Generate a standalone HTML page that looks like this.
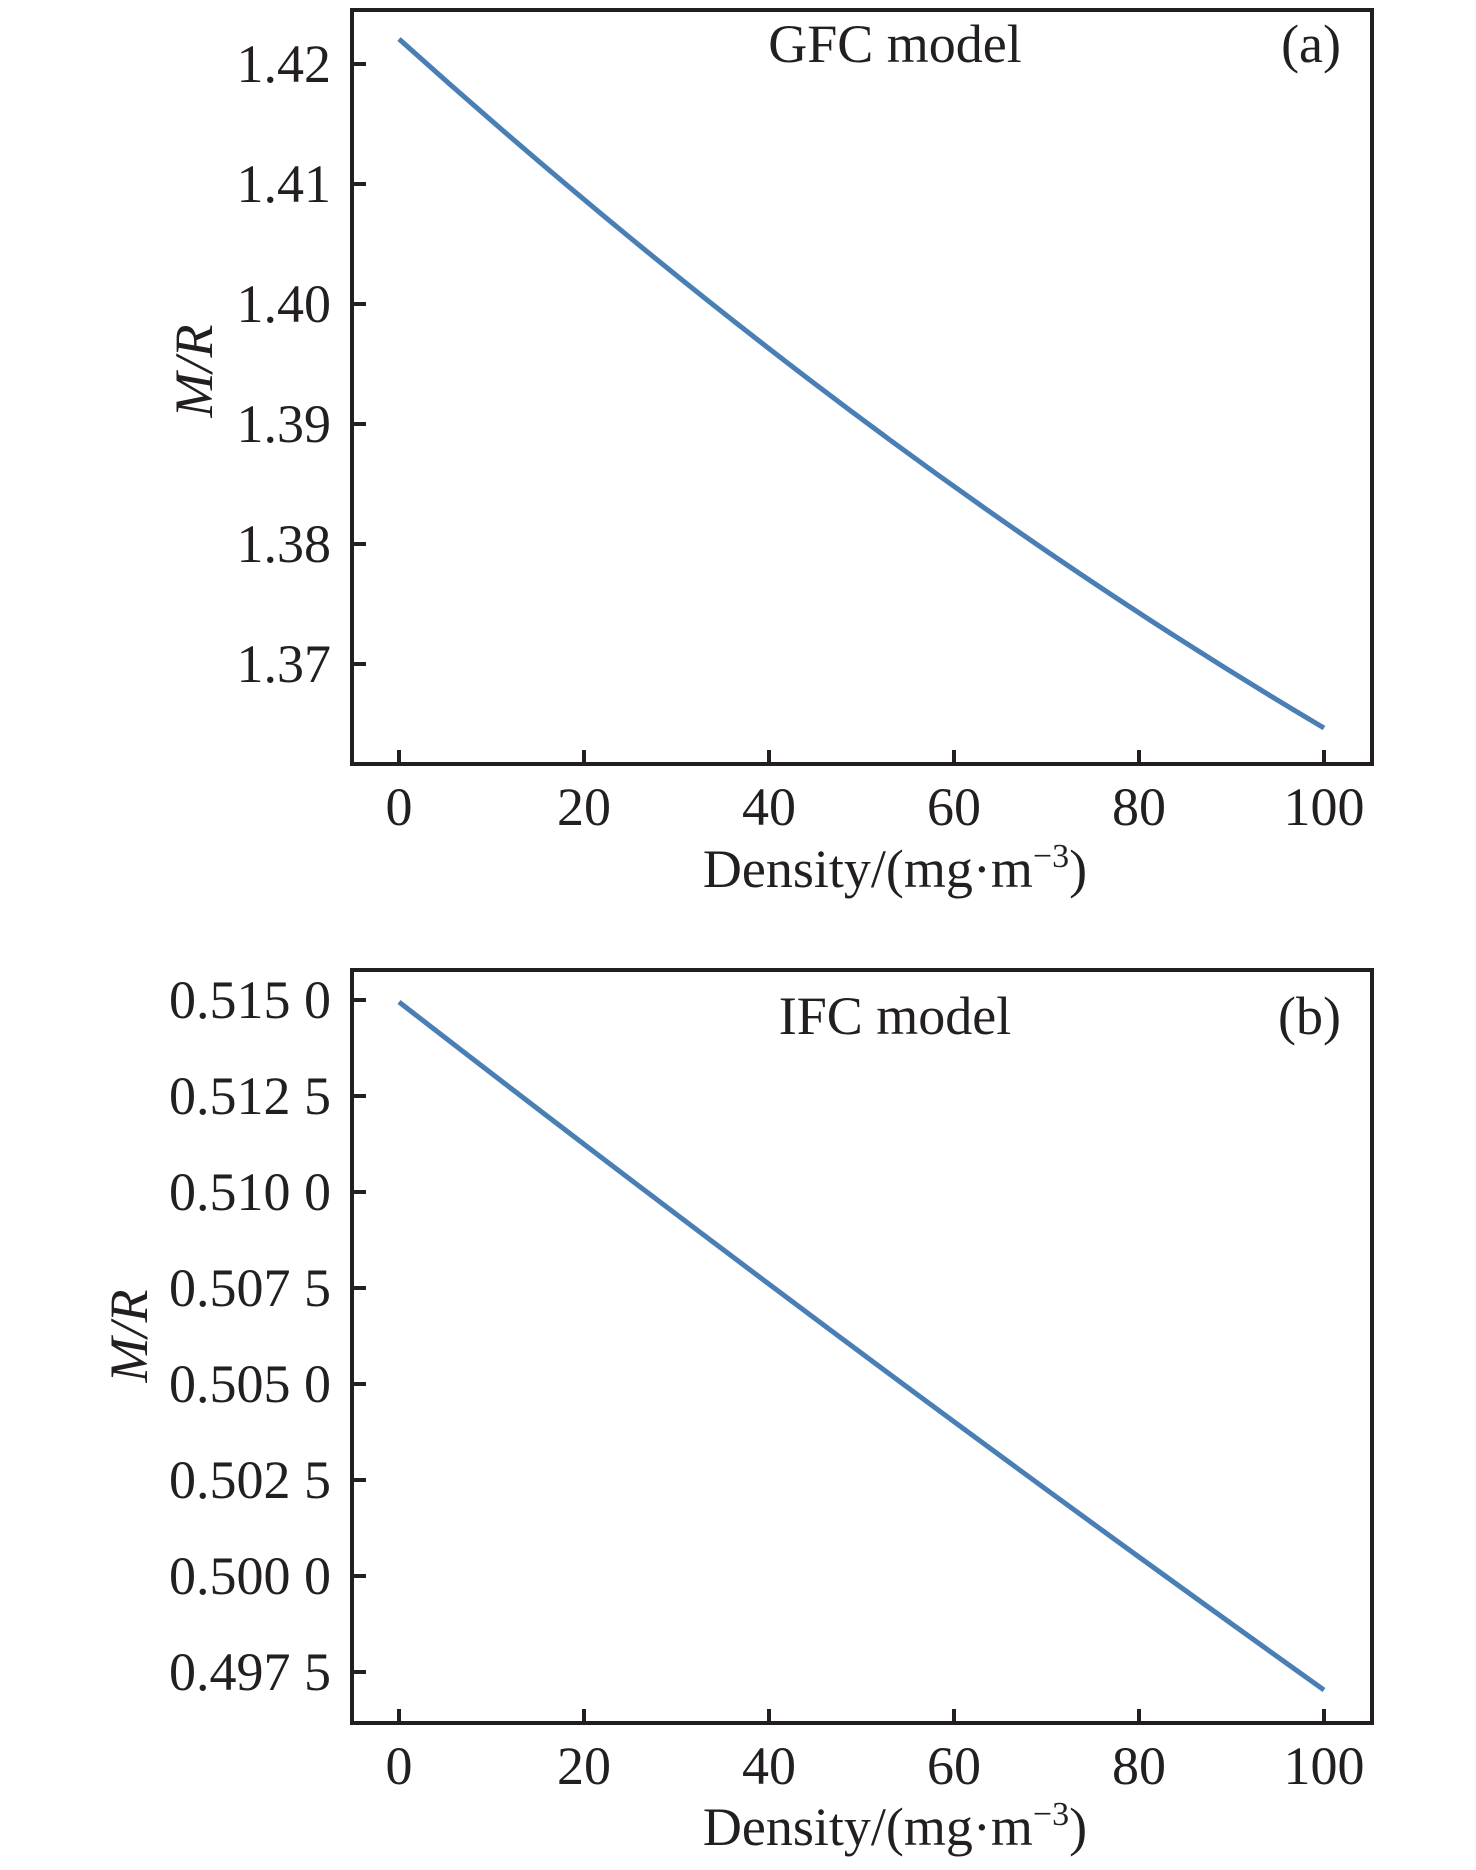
<!DOCTYPE html>
<html><head><style>
html,body{margin:0;padding:0;background:#fff;}
svg{display:block;}
text{font-family:"Liberation Serif",serif;fill:#231f20;font-size:54px;}
</style></head><body>
<svg width="1476" height="1870" viewBox="0 0 1476 1870">
<g stroke="#231f20" stroke-width="4" fill="none">
<rect x="352" y="10" width="1020" height="754"/>
<rect x="352" y="970" width="1020" height="753"/>
</g>
<g stroke="#231f20" stroke-width="4">
<!-- top x ticks -->
<line x1="399" y1="764" x2="399" y2="750"/><line x1="584" y1="764" x2="584" y2="750"/>
<line x1="769" y1="764" x2="769" y2="750"/><line x1="954" y1="764" x2="954" y2="750"/>
<line x1="1139" y1="764" x2="1139" y2="750"/><line x1="1324" y1="764" x2="1324" y2="750"/>
<!-- top y ticks -->
<line x1="352" y1="64" x2="366" y2="64"/><line x1="352" y1="184" x2="366" y2="184"/>
<line x1="352" y1="304" x2="366" y2="304"/><line x1="352" y1="424" x2="366" y2="424"/>
<line x1="352" y1="544" x2="366" y2="544"/><line x1="352" y1="664" x2="366" y2="664"/>
<!-- bottom x ticks -->
<line x1="399" y1="1723" x2="399" y2="1709"/><line x1="584" y1="1723" x2="584" y2="1709"/>
<line x1="769" y1="1723" x2="769" y2="1709"/><line x1="954" y1="1723" x2="954" y2="1709"/>
<line x1="1139" y1="1723" x2="1139" y2="1709"/><line x1="1324" y1="1723" x2="1324" y2="1709"/>
<!-- bottom y ticks -->
<line x1="352" y1="1000" x2="366" y2="1000"/><line x1="352" y1="1096" x2="366" y2="1096"/>
<line x1="352" y1="1192" x2="366" y2="1192"/><line x1="352" y1="1288" x2="366" y2="1288"/>
<line x1="352" y1="1384" x2="366" y2="1384"/><line x1="352" y1="1480" x2="366" y2="1480"/>
<line x1="352" y1="1576" x2="366" y2="1576"/><line x1="352" y1="1672" x2="366" y2="1672"/>
</g>
<path d="M399,39 Q861,454 1324,728" stroke="#4a7fb5" stroke-width="5" fill="none"/>
<path d="M399,1002 Q861,1360 1324,1690" stroke="#4a7fb5" stroke-width="5" fill="none"/>
<g text-anchor="middle">
<text x="399" y="825">0</text><text x="584" y="825">20</text><text x="769" y="825">40</text>
<text x="954" y="825">60</text><text x="1139" y="825">80</text><text x="1324" y="825">100</text>
<text x="399" y="1784">0</text><text x="584" y="1784">20</text><text x="769" y="1784">40</text>
<text x="954" y="1784">60</text><text x="1139" y="1784">80</text><text x="1324" y="1784">100</text>
<text x="895" y="887">Density/(mg·m<tspan dy="-20" font-size="34">−3</tspan><tspan dy="20">)</tspan></text>
<text x="895" y="1845">Density/(mg·m<tspan dy="-20" font-size="34">−3</tspan><tspan dy="20">)</tspan></text>
<text x="895" y="62">GFC model</text>
<text x="895" y="1034">IFC model</text>
</g>
<g text-anchor="end">
<text x="1341" y="62">(a)</text>
<text x="1341" y="1034">(b)</text>
<text x="331" y="82">1.42</text><text x="331" y="202">1.41</text><text x="331" y="322">1.40</text>
<text x="331" y="442">1.39</text><text x="331" y="562">1.38</text><text x="331" y="682">1.37</text>
<text x="331" y="1018">0.515 0</text><text x="331" y="1114">0.512 5</text><text x="331" y="1210">0.510 0</text>
<text x="331" y="1306">0.507 5</text><text x="331" y="1402">0.505 0</text><text x="331" y="1498">0.502 5</text>
<text x="331" y="1594">0.500 0</text><text x="331" y="1690">0.497 5</text>
</g>
<text transform="translate(212,371) rotate(-90)" text-anchor="middle" font-style="italic">M/R</text>
<text transform="translate(147,1336) rotate(-90)" text-anchor="middle" font-style="italic">M/R</text>
</svg>
</body></html>
